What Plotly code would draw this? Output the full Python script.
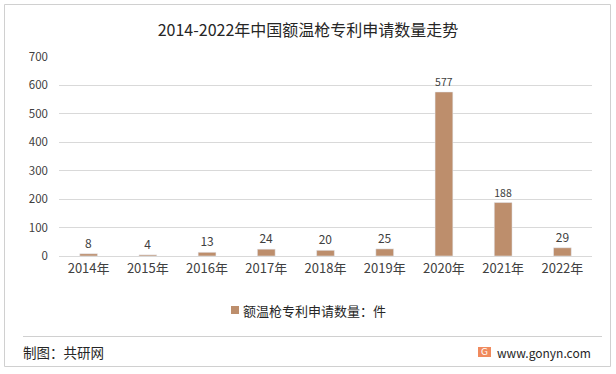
import plotly.graph_objects as go

years = ["2014年", "2015年", "2016年", "2017年", "2018年", "2019年", "2020年", "2021年", "2022年"]
values = [8, 4, 13, 24, 20, 25, 577, 188, 29]
series_name = "额温枪专利申请数量：件"
title_text = "2014-2022年中国额温枪专利申请数量走势"
source_text = "制图：共研网"
site_text = "www.gonyn.com"

W, H = 616, 374
L, R, T, B = 59, 24, 57, 118
pw, ph = W - L - R, H - T - B

def px(x):
    return (x - L) / pw

def py(y):
    return (H - B - y) / ph

font_cjk = "Noto Sans CJK SC, Microsoft YaHei, sans-serif"
bar_color = "#BD8E6C"

fig = go.Figure()
fig.add_trace(go.Bar(
    x=years, y=values, name=series_name,
    marker_color=bar_color,
    text=[str(v) for v in values], textposition="outside",
    textfont=dict(size=12, color="#404040"),
    cliponaxis=False, showlegend=False,
))

fig.update_layout(
    width=W, height=H,
    margin=dict(l=L, r=R, t=T, b=B),
    paper_bgcolor="white", plot_bgcolor="white",
    bargap=0.7,
    font=dict(family=font_cjk, size=11, color="#595959"),
    showlegend=False,
    title=dict(text=title_text, x=0.5, xanchor="center", y=1 - 30 / H, yanchor="middle",
               font=dict(size=16, color="#262626", family=font_cjk)),
    xaxis=dict(showline=True, linecolor="#D9D9D9", linewidth=1, ticks="",
               tickfont=dict(size=13, color="#404040")),
    yaxis=dict(range=[0, 700], dtick=100, showgrid=True, gridcolor="#D9D9D9",
               zeroline=False, ticks="", ticklabelstandoff=10,
               tickfont=dict(size=11.5, color="#404040")),
    shapes=[
        dict(type="rect", xref="paper", yref="paper",
             x0=px(4.5), x1=px(610.5), y0=py(366.5), y1=py(4.5),
             line=dict(color="#D0D0D0", width=1), fillcolor="rgba(0,0,0,0)", layer="below"),
        dict(type="line", xref="paper", yref="paper",
             x0=px(23), x1=px(602), y0=py(336.5), y1=py(336.5),
             line=dict(color="#D0D0D0", width=1)),
        dict(type="rect", xref="paper", yref="paper",
             x0=px(478), x1=px(491), y0=py(357), y1=py(347),
             line=dict(width=0), fillcolor="#F08A5D"),
        dict(type="rect", xref="paper", yref="paper",
             x0=px(231), x1=px(239), y0=py(314), y1=py(306),
             line=dict(width=0), fillcolor=bar_color),
    ],
    annotations=[
        dict(text=series_name, xref="paper", yref="paper", x=px(241), y=py(310),
             xanchor="left", yanchor="middle", showarrow=False,
             font=dict(size=13, color="#262626")),
        dict(text=source_text, xref="paper", yref="paper", x=px(21), y=py(352),
             xanchor="left", yanchor="middle", showarrow=False,
             font=dict(size=13.5, color="#262626")),
        dict(text=site_text, xref="paper", yref="paper", x=px(593), y=py(352),
             xanchor="right", yanchor="middle", showarrow=False,
             font=dict(size=12, color="#262626")),
        dict(text="G", xref="paper", yref="paper", x=px(484.5), y=py(352),
             xanchor="center", yanchor="middle", showarrow=False,
             font=dict(size=9, color="white", family="DejaVu Sans")),
    ],
)

fig.write_html("out.html", config={"displayModeBar": False},
               post_script="document.body.style.margin='0';document.body.style.padding='0';")
